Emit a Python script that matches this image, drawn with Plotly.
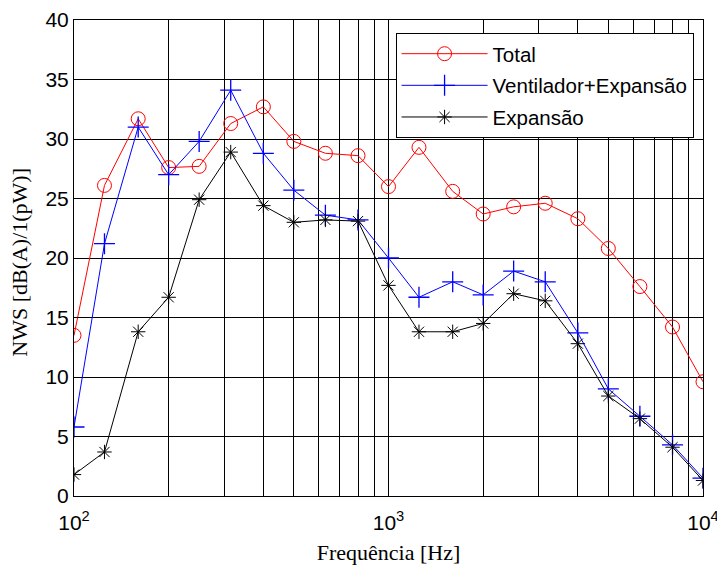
import plotly.graph_objects as go

freq = [100, 125, 160, 200, 250, 315, 400, 500, 630, 800, 1000, 1250, 1600,
        2000, 2500, 3150, 4000, 5000, 6300, 8000, 10000]
total = [13.5, 26.1, 31.7, 27.6, 27.7, 31.3, 32.7, 29.8, 28.8, 28.6, 26.0, 29.3,
         25.6, 23.7, 24.3, 24.6, 23.3, 20.8, 17.6, 14.2, 9.6]
vent_exp = [5.8, 21.2, 31.0, 27.0, 29.8, 34.1, 28.8, 25.7, 23.6, 23.2, 20.0, 16.7,
            18.0, 16.9, 18.9, 18.0, 13.7, 9.0, 6.7, 4.3, 1.5]
expansao = [1.8, 3.7, 13.8, 16.7, 24.9, 28.9, 24.4, 23.0, 23.2, 23.1, 17.7, 13.8,
            13.8, 14.5, 17.0, 16.4, 12.8, 8.4, 6.5, 4.1, 1.3]
x_tickvals = [100, 1000, 10000]
x_ticktext = ["10<sup>2</sup>", "10<sup>3</sup>", "10<sup>4</sup>"]
y_tickvals = [0, 5, 10, 15, 20, 25, 30, 35, 40]

fig = go.Figure()
fig.add_trace(go.Scatter(
    x=freq, y=total, name="Total", mode="lines+markers", legendgroup="a",
    line=dict(color="#ff0000", width=1),
    marker=dict(symbol="circle-open", size=14, color="#ff0000", line=dict(width=1))))
fig.add_trace(go.Scatter(
    x=freq, y=vent_exp, name="Ventilador+Expansão", mode="lines+markers", legendgroup="b",
    line=dict(color="#0000ff", width=1),
    marker=dict(symbol="cross-thin-open", size=15, color="#0000ff", line=dict(width=1.3, color="#0000ff"))))
fig.add_trace(go.Scatter(
    x=freq, y=expansao, name="Expansão", mode="lines+markers", legendgroup="c",
    line=dict(color="#000000", width=1),
    marker=dict(symbol="asterisk-open", size=12, color="#000000", line=dict(width=1, color="#000000"))))

fig.update_layout(
    width=717, height=565,
    margin=dict(l=74, r=14, t=20, b=69),
    paper_bgcolor="white", plot_bgcolor="white",
    font=dict(family="Liberation Sans, Arial", size=21, color="#000000"),
    showlegend=True,
    legend=dict(x=0.985, y=0.973, xanchor="right", yanchor="top",
                bgcolor="white", bordercolor="black", borderwidth=1,
                font=dict(family="Liberation Sans, Arial", size=20.5),
                tracegroupgap=2, itemwidth=86),
    annotations=[dict(text="NWS [dB(A)/1(pW)]", textangle=-90,
                      xref="paper", yref="paper", x=0, y=0.49,
                      xanchor="center", yanchor="middle", xshift=-54,
                      showarrow=False,
                      font=dict(family="Liberation Serif, Times New Roman", size=22))],
)
fig.update_xaxes(
    type="log", range=[2, 4], automargin=False,
    tickmode="array", tickvals=x_tickvals, ticktext=x_ticktext,
    showgrid=True, gridcolor="#000000", gridwidth=1,
    minor=dict(dtick="D1", showgrid=True, gridcolor="#000000", gridwidth=1,
               ticks="inside", ticklen=3, tickcolor="#000000"),
    ticks="inside", ticklen=5, tickcolor="#000000", ticklabelstandoff=8,
    ticklabeloverflow="allow",
    showline=True, linecolor="#000000", linewidth=1, mirror="ticks",
    zeroline=False,
    title=dict(text="Frequência [Hz]", font=dict(family="Liberation Serif, Times New Roman", size=22), standoff=11),
    tickfont=dict(family="Liberation Sans, Arial", size=21),
)
fig.update_yaxes(
    range=[0, 40], tickmode="array", tickvals=y_tickvals, automargin=False,
    showgrid=True, gridcolor="#000000", gridwidth=1,
    ticks="inside", ticklen=5, tickcolor="#000000",
    showline=True, linecolor="#000000", linewidth=1, mirror="ticks",
    zeroline=False,
    tickfont=dict(family="Liberation Sans, Arial", size=21),
)
fig.write_html("out.html", config={"displayModeBar": False},
               post_script="document.body.style.margin='0';document.body.style.padding='0';")
